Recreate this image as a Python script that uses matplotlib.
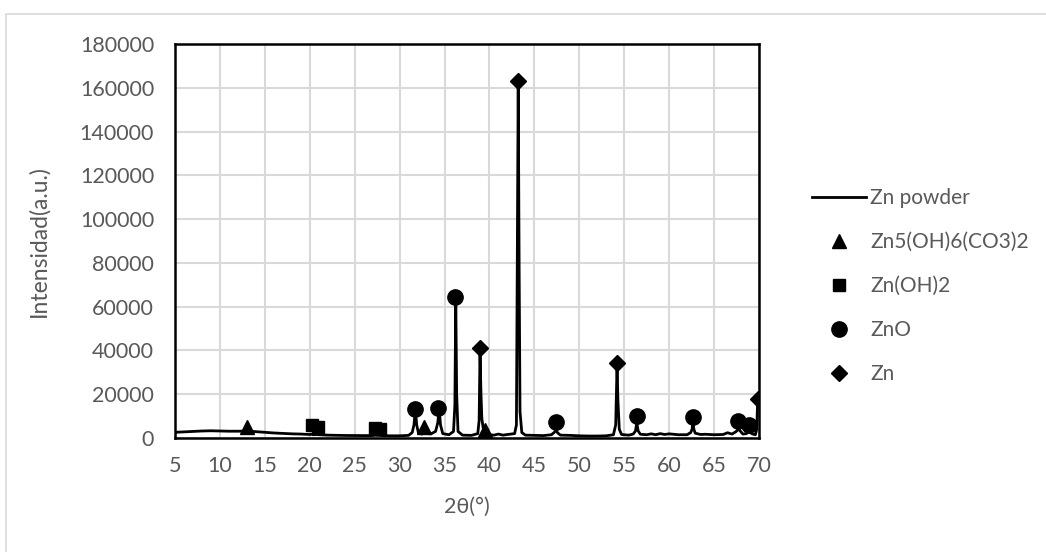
import matplotlib
matplotlib.use("Agg")
import matplotlib.pyplot as plt
from matplotlib.patches import Rectangle

plt.rcParams['font.family'] = ['Lato', 'DejaVu Sans']

# XRD pattern (2theta in degrees, intensity a.u.)
two_theta = [5, 6, 7, 8, 9, 10, 11, 12, 13, 14, 15, 16, 17, 18, 19, 20, 20.2, 20.4,
             20.8, 21, 21.5, 22, 23, 24, 25, 26, 27, 27.3, 27.5, 27.8, 28, 29, 30, 31,
             31.4, 31.6, 31.75, 31.9, 32.1, 32.5, 32.8, 33.0, 33.5, 34.0, 34.25, 34.4,
             34.55, 34.8, 35.5, 36.0, 36.15, 36.25, 36.35, 36.5, 37, 38, 38.7, 38.85,
             38.95, 39.05, 39.15, 39.3, 39.5, 39.7, 40.0, 40.5, 41, 41.5, 42, 42.8, 43.0,
             43.1, 43.2, 43.3, 43.4, 43.6, 44, 45, 46, 46.9, 47.2, 47.4, 47.6, 47.9, 49,
             50, 51, 52, 53, 53.8, 54.05, 54.2, 54.3, 54.45, 54.7, 55.5, 56.0, 56.25,
             56.4, 56.55, 56.8, 57.5, 58, 58.5, 59, 59.5, 60, 61, 62, 62.4, 62.55, 62.65,
             62.75, 62.9, 63.5, 64, 65, 66, 66.5, 67, 67.4, 67.6, 67.7, 67.85, 68.2, 68.6,
             68.8, 68.9, 69.0, 69.3, 69.6, 69.75, 69.85, 70]
intensity = [2600, 2800, 3000, 3200, 3300, 3200, 3100, 3100, 3200, 2900, 2600, 2300, 2100, 1900, 1800, 1600, 1700, 1500,
             1600, 1500, 1400, 1300, 1200, 1150, 1100, 1100, 1100, 1300, 1200, 1200, 1100, 1000, 1000, 1200,
             2500, 6000, 13000, 6000, 2200, 1800, 2500, 2000, 1900, 3000, 7000, 13500,
             6000, 2000, 1500, 3000, 15000, 63000, 20000, 3000, 1300, 1200, 2000, 8000,
             40000, 21000, 9000, 4500, 3200, 2000, 1500, 1300, 1800, 1300, 1600, 2000, 6000,
             80000, 162000, 80000, 12000, 2500, 1300, 1200, 1100, 1500, 2500, 3600, 2300, 1300, 1200,
             1000, 900, 900, 1000, 1500, 6000, 33000, 17000, 4000, 1600, 1300, 1800, 3200,
             7000, 3200, 1700, 1500, 1900, 1500, 2000, 1600, 1900, 1500, 1500, 2500, 4000, 7000,
             4000, 2200, 1600, 1700, 1500, 1600, 2400, 1800, 2800, 3500, 5000, 3500, 1800, 2000,
             2800, 3500, 2500, 1800, 1500, 4000, 17000, 18000]

# phase markers
basic_carbonate_x = [13.05, 32.75, 39.5]
basic_carbonate_y = [5200, 4900, 3700]
hydroxide_x = [20.2, 20.95, 27.26, 27.8]
hydroxide_y = [5900, 5200, 4700, 4000]
zno_x = [31.7, 34.3, 36.16, 47.4, 56.4, 62.65, 67.7, 68.9]
zno_y = [13300, 13900, 64600, 7500, 10100, 9800, 7900, 6000]
zn_x = [38.95, 43.2, 54.2, 69.85]
zn_y = [41300, 163000, 34100, 17700]

fig = plt.figure(figsize=(10.46, 5.52), dpi=100)
ax = fig.add_axes([175/1046, 1-438/552, 584/1046, 394/552])

ax.plot(two_theta, intensity, color='black', lw=2, label='Zn powder', zorder=3)
ax.plot(basic_carbonate_x, basic_carbonate_y, '^', color='black', ms=10, label='Zn5(OH)6(CO3)2', zorder=4)
ax.plot(hydroxide_x, hydroxide_y, 's', color='black', ms=9, label='Zn(OH)2', zorder=4)
ax.plot(zno_x, zno_y, 'o', color='black', ms=11, label='ZnO', zorder=4)
ax.plot(zn_x, zn_y, 'D', color='black', ms=8, label='Zn', zorder=4)

ax.set_xlim(5, 70)
ax.set_ylim(0, 180000)
ax.set_xticks(range(5, 71, 5))
ax.set_yticks(range(0, 180001, 20000))
ax.grid(True, color='#d9d9d9', lw=1.5, zorder=0)
ax.set_axisbelow(True)
for s in ax.spines.values():
    s.set_color('black')
    s.set_linewidth(1.8)
ax.tick_params(length=0, labelsize=15.5, labelcolor='#595959')
ax.tick_params(axis='y', pad=15)
ax.tick_params(axis='x', pad=13)
ax.set_xlabel('2θ(°)', fontsize=15.5, color='#595959', labelpad=15)
ax.set_ylabel('Intensidad(a.u.)', fontsize=16.5, color='#595959', labelpad=22)

lgd = ax.legend(loc='upper left', bbox_to_anchor=(1.076, 0.655), frameon=False,
                fontsize=15, labelcolor='#595959', handlelength=2.6, labelspacing=1.15,
                handletextpad=0.2, borderaxespad=0)

fig.add_artist(Rectangle((6/1046, -0.1), 1.2, 1.1 - 14/552, transform=fig.transFigure,
                         fill=False, edgecolor='#d9d9d9', lw=1.2))

fig.savefig('out.png', dpi=100)
